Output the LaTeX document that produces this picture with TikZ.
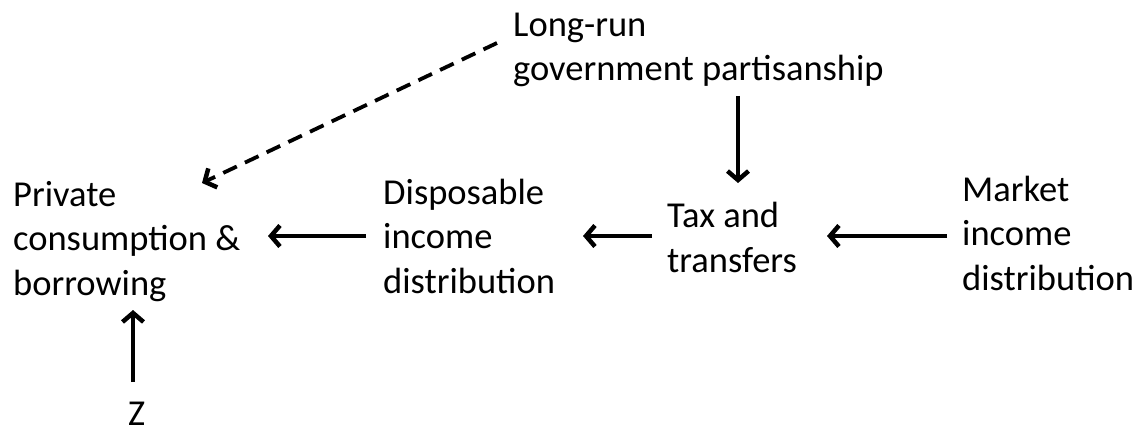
\documentclass[tikz,border=0pt]{standalone}
\usepackage{fontspec}
\setmainfont{Carlito}
\usetikzlibrary{arrows.meta}
\begin{document}
\begin{tikzpicture}[x=1pt,y=-1pt,
  lbl/.style={font=\fontsize{36.5}{44.5}\selectfont, align=left, inner sep=0pt, anchor=base west},
  arr/.style={line width=4pt, -{Straight Barb[length=9pt,width=21pt,line width=4.5pt]}},
  darr/.style={arr, line width=3.8pt, dash pattern=on 15pt off 9pt}]
\useasboundingbox (0,0) rectangle (1143,433);
\node[lbl] (lr) at (513,81) {Long-run\\government partisanship};
\node[lbl] (priv) at (13,295) {Private\\consumption \&\\borrowing};
\node[lbl] (disp) at (383,293) {Disposable\\income\\distribution};
\node[lbl] (tax) at (667,272) {Tax and\\transfers};
\node[lbl] (mkt) at (962,290) {Market\\income\\distribution};
\node[lbl] (z) at (128,425) {Z};
\draw[darr] ([shift={(-16,-38)}]lr.base west) -- ([shift={(189,-112)}]priv.base west);
\draw[arr] ([shift={(225,15)}]lr.base west) -- ([shift={(71,-89)}]tax.base west);
\draw[arr] ([shift={(-17,-57)}]disp.base west) -- ([shift={(255,-59)}]priv.base west);
\draw[arr] ([shift={(-15,-36)}]tax.base west) -- ([shift={(200,-57)}]disp.base west);
\draw[arr] ([shift={(-15,-54)}]mkt.base west) -- ([shift={(160,-36)}]tax.base west);
\draw[arr] ([shift={(5,-43)}]z.base west) -- ([shift={(120,15)}]priv.base west);
\end{tikzpicture}
\end{document}
